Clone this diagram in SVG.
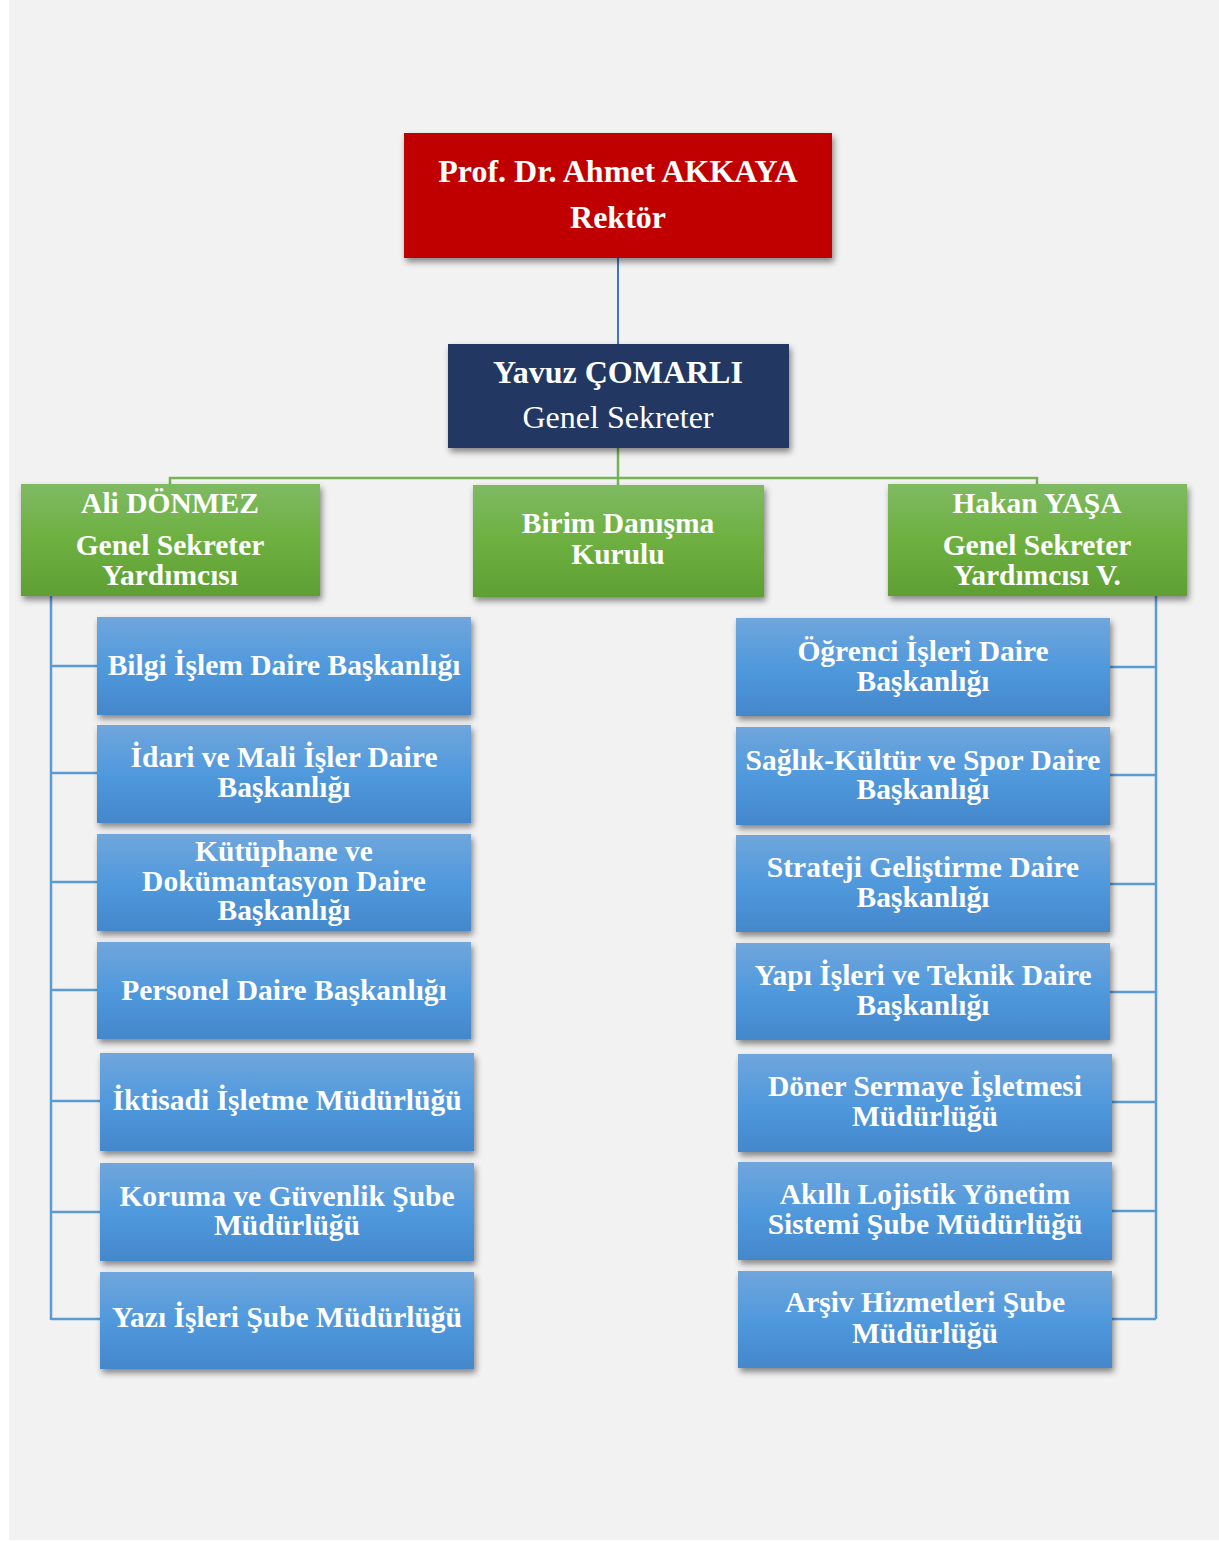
<svg xmlns="http://www.w3.org/2000/svg" width="1219" height="1541" viewBox="0 0 1219 1541">
<style>
.t{font-family:"Liberation Serif","Times New Roman",serif;fill:#fff;text-anchor:middle}
.b{font-weight:bold}
.big{font-size:32px}
.mid{font-size:29.5px}
.bl{fill:url(#gBlue);filter:url(#sh)}
.gr{fill:url(#gGreen);filter:url(#sh)}
.cb{stroke:#5b9bd5;stroke-width:2.5;fill:none}
.cg{stroke:#77b255;stroke-width:2.5;fill:none}
</style>
<defs>
<linearGradient id="gBlue" x1="0" y1="0" x2="0" y2="1">
<stop offset="0" stop-color="#70a6dc"/>
<stop offset="0.5" stop-color="#5099dd"/>
<stop offset="1" stop-color="#4487cb"/>
</linearGradient>
<linearGradient id="gGreen" x1="0" y1="0" x2="0" y2="1">
<stop offset="0" stop-color="#7fba63"/>
<stop offset="0.5" stop-color="#6db040"/>
<stop offset="1" stop-color="#5f9f33"/>
</linearGradient>
<filter id="sh" x="-10%" y="-10%" width="125%" height="135%">
<feDropShadow dx="2" dy="4" stdDeviation="3" flood-color="#000" flood-opacity="0.45"/>
</filter>
</defs>
<rect x="0" y="0" width="1219" height="1541" fill="#ffffff"/>
<rect x="9" y="0" width="1210" height="1540" fill="#f2f2f2"/>

<g id="connectors">
<path d="M618,258 V344" stroke="#4472c4" stroke-width="2" fill="none"/>
<path class="cg" d="M618,448 V485"/>
<path class="cg" d="M170,485 V478 H1037 V485"/>
<path class="cb" d="M51,596 V1320 M51,666 H97 M51,773 H97 M51,882 H97 M51,990 H97 M51,1101 H100 M51,1212 H100 M51,1319 H100"/>
<path class="cb" d="M1156,596 V1319 M1110,667 H1156 M1110,775 H1156 M1110,884 H1156 M1110,992 H1156 M1112,1102 H1156 M1112,1211 H1156 M1112,1319 H1156"/>
</g>

<g id="rektor">
<rect x="404" y="133" width="428" height="125" fill="#c00000" filter="url(#sh)"/>
<text class="t b big" x="618" y="182">Prof. Dr. Ahmet AKKAYA</text>
<text class="t b big" x="618" y="228">Rektör</text>
</g>

<g id="genel-sekreter">
<rect x="448" y="344" width="341" height="104" fill="#203864" filter="url(#sh)"/>
<text class="t b big" x="618" y="383">Yavuz ÇOMARLI</text>
<text class="t big" x="618" y="428">Genel Sekreter</text>
</g>

<g id="ali-donmez">
<rect class="gr" x="21" y="484" width="299" height="112"/>
<text class="t b mid" x="170" y="513">Ali DÖNMEZ</text>
<text class="t b mid" x="170" y="555">Genel Sekreter</text>
<text class="t b mid" x="170" y="585">Yardımcısı</text>
</g>

<g id="birim-danisma">
<rect class="gr" x="473" y="485" width="291" height="112"/>
<text class="t b mid" x="618" y="533">Birim Danışma</text>
<text class="t b mid" x="618" y="564">Kurulu</text>
</g>

<g id="hakan-yasa">
<rect class="gr" x="888" y="484" width="299" height="112"/>
<text class="t b mid" x="1037" y="513">Hakan YAŞA</text>
<text class="t b mid" x="1037" y="555">Genel Sekreter</text>
<text class="t b mid" x="1037" y="585">Yardımcısı V.</text>
</g>

<g id="bilgi-islem">
<rect class="bl" x="97" y="617" width="374" height="98"/>
<text class="t b mid" x="284" y="675">Bilgi İşlem Daire Başkanlığı</text>
</g>
<g id="idari-mali">
<rect class="bl" x="97" y="725" width="374" height="98"/>
<text class="t b mid" x="284" y="767">İdari ve Mali İşler Daire</text>
<text class="t b mid" x="284" y="797">Başkanlığı</text>
</g>
<g id="kutuphane">
<rect class="bl" x="97" y="834" width="374" height="97"/>
<text class="t b mid" x="284" y="861">Kütüphane ve</text>
<text class="t b mid" x="284" y="891">Dokümantasyon Daire</text>
<text class="t b mid" x="284" y="920">Başkanlığı</text>
</g>
<g id="personel">
<rect class="bl" x="97" y="942" width="374" height="97"/>
<text class="t b mid" x="284" y="1000">Personel Daire Başkanlığı</text>
</g>
<g id="iktisadi">
<rect class="bl" x="100" y="1053" width="374" height="98"/>
<text class="t b mid" x="287" y="1110">İktisadi İşletme Müdürlüğü</text>
</g>
<g id="koruma">
<rect class="bl" x="100" y="1163" width="374" height="98"/>
<text class="t b mid" x="287" y="1206">Koruma ve Güvenlik Şube</text>
<text class="t b mid" x="287" y="1235">Müdürlüğü</text>
</g>
<g id="yazi-isleri">
<rect class="bl" x="100" y="1272" width="374" height="97"/>
<text class="t b mid" x="287" y="1327">Yazı İşleri Şube Müdürlüğü</text>
</g>

<g id="ogrenci">
<rect class="bl" x="736" y="618" width="374" height="98"/>
<text class="t b mid" x="923" y="661">Öğrenci İşleri Daire</text>
<text class="t b mid" x="923" y="691">Başkanlığı</text>
</g>
<g id="saglik">
<rect class="bl" x="736" y="727" width="374" height="98"/>
<text class="t b mid" x="923" y="770">Sağlık-Kültür ve Spor Daire</text>
<text class="t b mid" x="923" y="799">Başkanlığı</text>
</g>
<g id="strateji">
<rect class="bl" x="736" y="835" width="374" height="97"/>
<text class="t b mid" x="923" y="877">Strateji Geliştirme Daire</text>
<text class="t b mid" x="923" y="907">Başkanlığı</text>
</g>
<g id="yapi">
<rect class="bl" x="736" y="943" width="374" height="97"/>
<text class="t b mid" x="923" y="985">Yapı İşleri ve Teknik Daire</text>
<text class="t b mid" x="923" y="1015">Başkanlığı</text>
</g>
<g id="doner">
<rect class="bl" x="738" y="1054" width="374" height="98"/>
<text class="t b mid" x="925" y="1096">Döner Sermaye İşletmesi</text>
<text class="t b mid" x="925" y="1126">Müdürlüğü</text>
</g>
<g id="akilli">
<rect class="bl" x="738" y="1162" width="374" height="98"/>
<text class="t b mid" x="925" y="1204">Akıllı Lojistik Yönetim</text>
<text class="t b mid" x="925" y="1234">Sistemi Şube Müdürlüğü</text>
</g>
<g id="arsiv">
<rect class="bl" x="738" y="1271" width="374" height="97"/>
<text class="t b mid" x="925" y="1312">Arşiv Hizmetleri Şube</text>
<text class="t b mid" x="925" y="1343">Müdürlüğü</text>
</g>
</svg>
